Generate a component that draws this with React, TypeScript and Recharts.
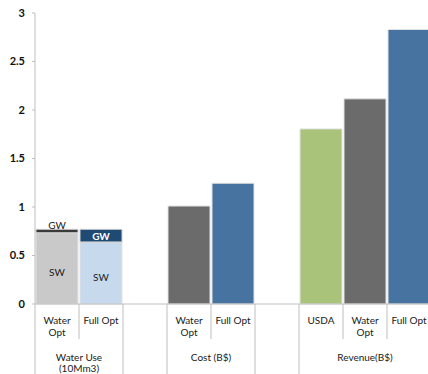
import React from 'react';
import { BarChart, Bar, XAxis, YAxis, Cell, LabelList } from 'recharts';

// ---- data ----
const categoryKeys = ['wu-water', 'wu-full', 'gap1', 'cost-water', 'cost-full', 'gap2', 'rev-usda', 'rev-water', 'rev-full'];
const categoryLabels: string[][] = [
  ['Water', 'Opt'], ['Full Opt'], [],
  ['Water', 'Opt'], ['Full Opt'], [],
  ['USDA'], ['Water', 'Opt'], ['Full Opt'],
];
const baseValues = [0.735, 0.64, null, 1.01, 1.245, null, 1.805, 2.115, 2.83];
const gwValues = [0.035, 0.13, null, null, null, null, null, null, null];
const baseLabels = ['SW', 'SW', '', '', '', '', '', '', ''];
const gwLabels = ['GW', 'GW', '', '', '', '', '', '', ''];
const baseColors = ['#c9c9c9', '#c6d9ed', '#ffffff', '#6b6b6b', '#46739f', '#ffffff', '#a9c47a', '#6b6b6b', '#46739f'];
const gwColors = ['#3a3a3a', '#1f4a73', '#ffffff', '#ffffff', '#ffffff', '#ffffff', '#ffffff', '#ffffff', '#ffffff'];
const groups = [
  { label: ['Water Use', '(10Mm3)'], start: 0, end: 2 },
  { label: [] as string[], start: 2, end: 3 },
  { label: ['Cost (B$)'], start: 3, end: 5 },
  { label: [] as string[], start: 5, end: 6 },
  { label: ['Revenue(B$)'], start: 6, end: 9 },
];
const yTicks = [0, 0.5, 1, 1.5, 2, 2.5, 3];

const data = categoryKeys.map((key, i) => ({
  key,
  base: baseValues[i],
  gw: gwValues[i],
}));

// ---- layout ----
const CHART_W = 431;
const CHART_H = 374;
const MARGIN = { top: 13, right: 0, bottom: 0, left: 0 };
const Y_AXIS_W = 35;
const X_AXIS_H = 70;
const FONT = 'Lato, "Open Sans", sans-serif';
const AXIS_COLOR = '#bfbfbf';
const TEXT_COLOR = '#1a1a1a';

const CategoryTick = (props: any) => {
  const { x, y, payload, index, width, visibleTicksCount } = props;
  const n = visibleTicksCount || categoryKeys.length;
  const plotW = typeof width === 'number' && width > 0 ? width : CHART_W - Y_AXIS_W;
  const slot = plotW / n;
  const i = typeof payload?.index === 'number' ? payload.index : index;
  const left = x - slot / 2;
  const isGroupStart = groups.some((g) => g.start === i);
  const group = groups.find((g) => g.start === i);
  const lines = categoryLabels[i] || [];
  return (
    <g>
      <line x1={left} x2={left} y1={y} y2={y + (isGroupStart ? X_AXIS_H : 35)} stroke={AXIS_COLOR} strokeWidth={1} />
      {i === n - 1 && (
        <line x1={left + slot} x2={left + slot} y1={y} y2={y + X_AXIS_H} stroke={AXIS_COLOR} strokeWidth={1} />
      )}
      {lines.map((t, k) => (
        <text key={k} x={x} y={y + 16 + k * 12} textAnchor="middle" dominantBaseline="central" fontSize={10} fontFamily={FONT} fill={TEXT_COLOR}>
          {t}
        </text>
      ))}
      {group &&
        group.label.map((t, k) => (
          <text
            key={'g' + k}
            x={left + ((group.end - group.start) * slot) / 2}
            y={y + 53 + k * 11}
            textAnchor="middle"
            dominantBaseline="central"
            fontSize={10}
            fontFamily={FONT}
            fill={TEXT_COLOR}
          >
            {t}
          </text>
        ))}
    </g>
  );
};

const BaseLabel = (props: any) => {
  const { x, y, width, height, index } = props;
  const t = baseLabels[index];
  if (!t || height == null) return null;
  return (
    <text x={x + width / 2} y={y + height / 2 + 4} textAnchor="middle" dominantBaseline="central" fontSize={10} fontFamily={FONT} fill={TEXT_COLOR}>
      {t}
    </text>
  );
};

const GwLabel = (props: any) => {
  const { x, y, width, height, index } = props;
  const t = gwLabels[index];
  if (!t || height == null) return null;
  const inside = height > 8;
  return (
    <text
      x={x + width / 2}
      y={inside ? y + height / 2 : y - 4}
      textAnchor="middle"
      dominantBaseline="central"
      fontSize={10}
      fontWeight={inside ? 'bold' : 'normal'}
      fontFamily={FONT}
      fill={inside ? '#ffffff' : TEXT_COLOR}
    >
      {t}
    </text>
  );
};

export default function App() {
  return (
    <div style={{ position: 'fixed', left: 0, top: 0, width: 428, height: 374, overflow: 'hidden', background: '#fff' }}>
      <BarChart width={CHART_W} height={CHART_H} data={data} margin={MARGIN} barCategoryGap={1}>
        <XAxis
          dataKey="key"
          interval={0}
          height={X_AXIS_H}
          tickLine={false}
          tickSize={0}
          tickMargin={0}
          axisLine={{ stroke: AXIS_COLOR }}
          tick={<CategoryTick />}
        />
        <YAxis
          width={Y_AXIS_W}
          domain={[0, 3]}
          ticks={yTicks}
          interval={0}
          tickSize={3}
          tickMargin={7}
          axisLine={{ stroke: AXIS_COLOR }}
          tickLine={{ stroke: AXIS_COLOR }}
          tick={{ fontSize: 11, fontFamily: FONT, fill: '#111', fontWeight: 'bold' }}
        />
        <Bar dataKey="base" stackId="s" isAnimationActive={false} stroke="#e2e2e2" strokeWidth={1}>
          {data.map((d, i) => (
            <Cell key={d.key} fill={baseColors[i]} />
          ))}
          <LabelList dataKey="base" content={<BaseLabel />} />
        </Bar>
        <Bar dataKey="gw" stackId="s" isAnimationActive={false} stroke="#d0d0d0" strokeWidth={1}>
          {data.map((d, i) => (
            <Cell key={d.key} fill={gwColors[i]} />
          ))}
          <LabelList dataKey="gw" content={<GwLabel />} />
        </Bar>
      </BarChart>
    </div>
  );
}
